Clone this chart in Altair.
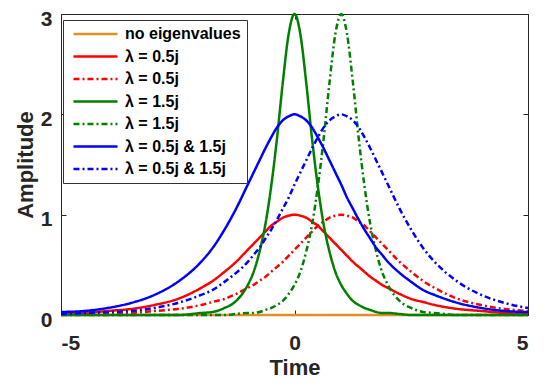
import json
import altair as alt
import pandas as pd

TIME = [-5, -4.5, -4, -3.5, -3, -2.5, -2, -1.75, -1.5, -1.25, -1,
        -0.875, -0.75, -0.625, -0.5, -0.375, -0.25, -0.125, 0,
        0.125, 0.25, 0.375, 0.5, 0.625, 0.75, 0.875, 1,
        1.125, 1.25, 1.375, 1.5, 1.625, 1.75, 1.875, 2,
        2.25, 2.5, 2.75, 3, 3.5, 4, 4.5, 5]

NO_EIG = [0.00, 0.00, 0.00, 0.00, 0.00, 0.00, 0.00, 0.00, 0.00, 0.00, 0.00,
          0.00, 0.00, 0.00, 0.00, 0.00, 0.00, 0.00, 0.00,
          0.00, 0.00, 0.00, 0.00, 0.00, 0.00, 0.00, 0.00,
          0.00, 0.00, 0.00, 0.00, 0.00, 0.00, 0.00, 0.00,
          0.00, 0.00, 0.00, 0.00, 0.00, 0.00, 0.00, 0.00]

RED_SOLID = [0.01, 0.02, 0.04, 0.06, 0.10, 0.16, 0.27, 0.34, 0.43, 0.53, 0.65,
             0.71, 0.77, 0.83, 0.89, 0.93, 0.97, 0.99, 1.00,
             0.99, 0.97, 0.93, 0.89, 0.83, 0.77, 0.71, 0.65,
             0.59, 0.53, 0.48, 0.43, 0.38, 0.34, 0.30, 0.27,
             0.21, 0.16, 0.13, 0.10, 0.06, 0.04, 0.02, 0.01]

RED_DASH = [0.01, 0.01, 0.01, 0.02, 0.04, 0.06, 0.10, 0.13, 0.16, 0.21, 0.27,
            0.30, 0.34, 0.38, 0.43, 0.48, 0.53, 0.59, 0.65,
            0.71, 0.77, 0.83, 0.89, 0.93, 0.97, 0.99, 1.00,
            0.99, 0.97, 0.93, 0.89, 0.83, 0.77, 0.71, 0.65,
            0.53, 0.43, 0.34, 0.27, 0.16, 0.10, 0.06, 0.04]

GREEN_SOLID = [0.00, 0.00, 0.00, 0.00, 0.00, 0.00, 0.02, 0.03, 0.07, 0.14, 0.30,
               0.43, 0.63, 0.90, 1.28, 1.76, 2.32, 2.80, 3.00,
               2.80, 2.32, 1.76, 1.28, 0.90, 0.63, 0.43, 0.30,
               0.21, 0.14, 0.10, 0.07, 0.05, 0.03, 0.02, 0.02,
               0.01, 0.00, 0.00, 0.00, 0.00, 0.00, 0.00, 0.00]

GREEN_DASH = [0.00, 0.00, 0.00, 0.00, 0.00, 0.00, 0.00, 0.00, 0.00, 0.01, 0.02,
              0.02, 0.03, 0.05, 0.07, 0.10, 0.14, 0.21, 0.30,
              0.43, 0.63, 0.90, 1.28, 1.76, 2.32, 2.80, 3.00,
              2.80, 2.32, 1.76, 1.28, 0.90, 0.63, 0.43, 0.30,
              0.14, 0.07, 0.03, 0.02, 0.00, 0.00, 0.00, 0.00]

BLUE_SOLID = [0.03, 0.04, 0.07, 0.12, 0.20, 0.33, 0.53, 0.67, 0.85, 1.06, 1.30,
              1.42, 1.54, 1.66, 1.77, 1.87, 1.94, 1.98, 2.00,
              1.98, 1.94, 1.87, 1.77, 1.66, 1.54, 1.42, 1.30,
              1.17, 1.06, 0.95, 0.85, 0.76, 0.67, 0.60, 0.53,
              0.42, 0.33, 0.25, 0.20, 0.12, 0.07, 0.04, 0.03]

BLUE_DASH = [0.01, 0.02, 0.03, 0.04, 0.07, 0.12, 0.20, 0.25, 0.33, 0.42, 0.53,
             0.60, 0.67, 0.76, 0.85, 0.95, 1.06, 1.17, 1.30,
             1.42, 1.54, 1.66, 1.77, 1.87, 1.94, 1.98, 2.00,
             1.98, 1.94, 1.87, 1.77, 1.66, 1.54, 1.42, 1.30,
             1.06, 0.85, 0.67, 0.53, 0.33, 0.20, 0.12, 0.07]

LABELS = ["no eigenvalues", "λ = 0.5j", "λ = 0.5j", "λ = 1.5j", "λ = 1.5j",
          "λ = 0.5j & 1.5j", "λ = 0.5j & 1.5j"]
SERIES = [NO_EIG, RED_SOLID, RED_DASH, GREEN_SOLID, GREEN_DASH, BLUE_SOLID, BLUE_DASH]
COLORS = ["#E38D22", "#FF0000", "#FF0000", "#008000", "#008000", "#0000FF", "#0000FF"]
DASHES = [[1, 0], [1, 0], [6, 3, 2, 3], [1, 0], [6, 3, 2, 3], [1, 0], [6, 3, 2, 3]]
X_TICKS = [-5, 0, 5]
Y_TICKS = [0, 1, 2, 3]

KEYS = [str(i) for i in range(len(LABELS))]
rows = []
for key, vals in zip(KEYS, SERIES):
    for t, v in zip(TIME, vals):
        rows.append({"time": t, "amp": v, "series": key})
df = pd.DataFrame(rows)

FONT = "Liberation Sans"
W, H = 467, 301

label_expr = json.dumps(LABELS, ensure_ascii=False) + "[toNumber(datum.value)]"
leg = alt.Legend(
    title=None, orient="none", legendX=2, legendY=6,
    symbolType="M-0.64,0H7.36", symbolSize=121, symbolStrokeWidth=2.5,
    labelOffset=40, labelFont=FONT, labelFontWeight="bold", labelFontSize=16,
    labelColor="#000000", padding=6, rowPadding=6.5, fillColor="white",
    strokeColor="#333333", labelExpr=label_expr, labelLimit=300,
)

base = alt.Chart(df)
lines = base.mark_line(strokeWidth=2.5, interpolate="monotone").encode(
    x=alt.X("time:Q", scale=alt.Scale(domain=[-5, 5], nice=False, zero=False),
            axis=alt.Axis(values=X_TICKS, title="Time", offset=-5, tickSize=5,
                          domain=False, grid=False, labelPadding=17, titlePadding=4,
                          labelExpr="'' + datum.value")),
    y=alt.Y("amp:Q", scale=alt.Scale(domain=[0, 3], nice=False),
            axis=alt.Axis(values=Y_TICKS, title="Amplitude", offset=-5, tickSize=5,
                          domain=False, grid=False, labelPadding=9, titlePadding=3,
                          labelOffset=5, labelExpr="'' + datum.value")),
    color=alt.Color("series:N", scale=alt.Scale(domain=KEYS, range=COLORS), legend=leg),
    strokeDash=alt.StrokeDash("series:N", scale=alt.Scale(domain=KEYS, range=DASHES), legend=leg),
)

frame = base.mark_point(opacity=0).encode(
    x=alt.X("time:Q", axis=alt.Axis(orient="top", values=X_TICKS, labels=False, title=None,
                                    offset=-5, tickSize=5, domain=False, grid=False)),
    y=alt.Y("amp:Q", axis=alt.Axis(orient="right", values=Y_TICKS, labels=False, title=None,
                                   offset=-5, tickSize=5, domain=False, grid=False)),
)

chart = alt.layer(lines, frame).resolve_axis(x="independent", y="independent").properties(
    width=W, height=H,
    autosize=alt.AutoSizeParams(type="none"),
    padding={"left": 53, "top": 6, "right": 10, "bottom": 63},
).configure_view(stroke="#262626", strokeWidth=1).configure_axis(
    labelFont=FONT, labelFontWeight="bold", labelFontSize=21, labelColor="#262626",
    titleFont=FONT, titleFontWeight="bold", titleFontSize=22, titleColor="#262626",
    tickColor="#262626", tickWidth=1,
)

chart.save("out.html", embed_options={"renderer": "svg", "actions": False})
